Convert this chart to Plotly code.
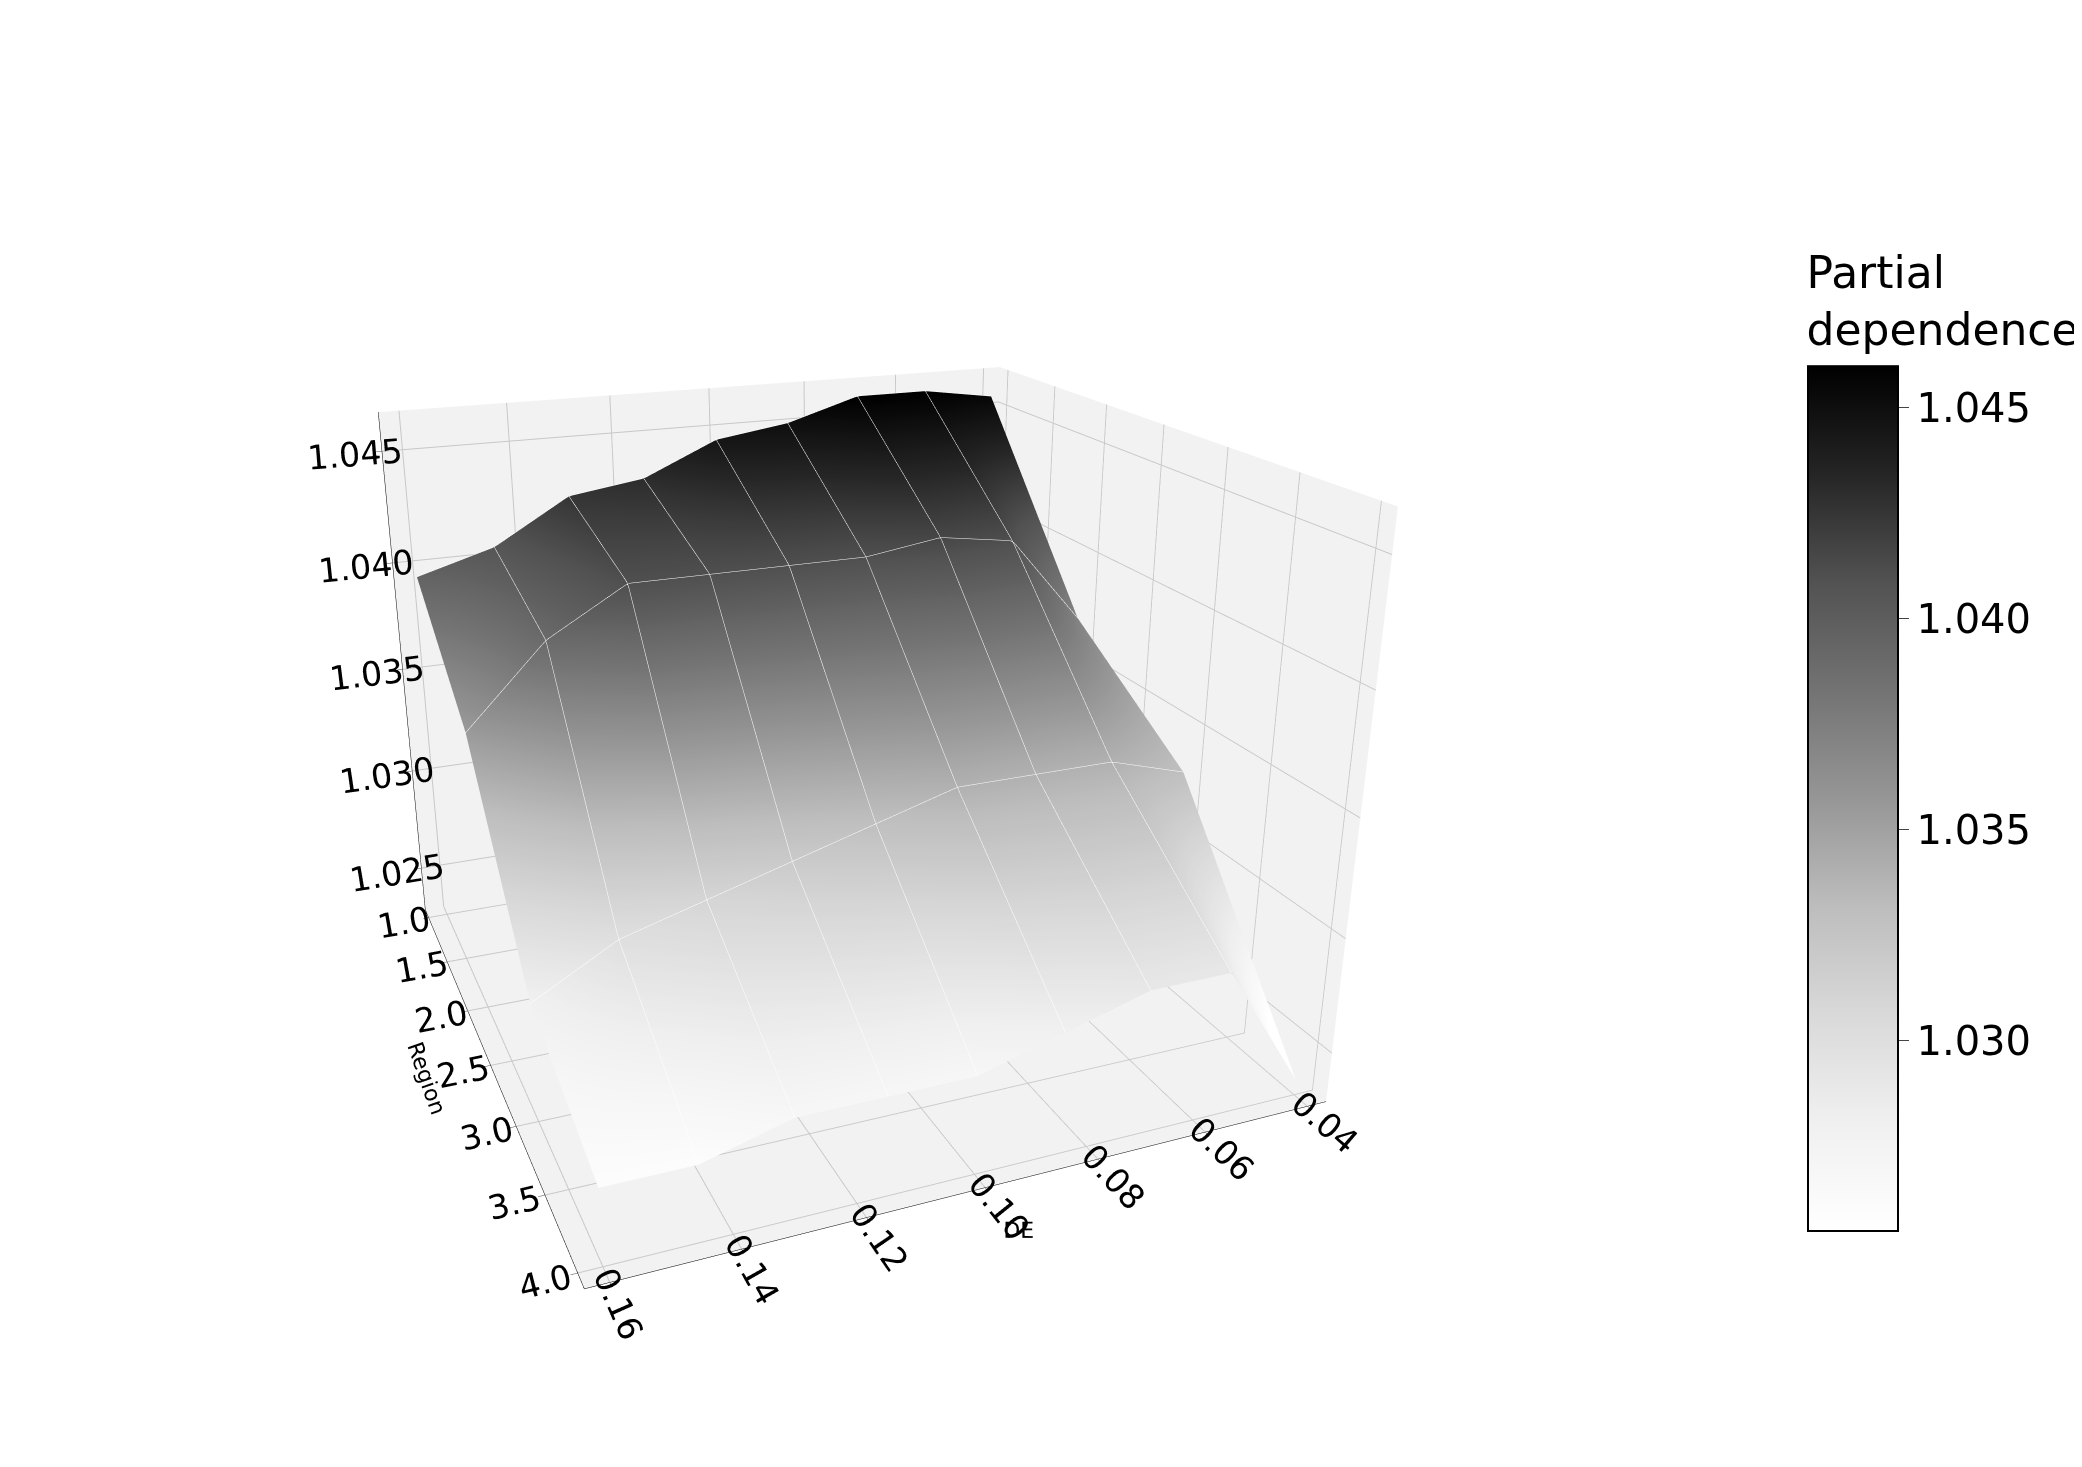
import plotly.graph_objects as go

de = [0.04, 0.055, 0.07, 0.085, 0.10, 0.115, 0.13, 0.145, 0.16]
region = [1, 2, 3, 4]
# rows: region, cols: DE (0.04 -> 0.16)
pd_vals = [
    [1.0455, 1.0460, 1.0460, 1.0450, 1.0445, 1.0430, 1.0425, 1.0405, 1.0395],
    [1.0370, 1.0410, 1.0415, 1.0410, 1.0410, 1.0410, 1.0410, 1.0390, 1.0355],
    [1.0330, 1.0340, 1.0340, 1.0340, 1.0330, 1.0320, 1.0310, 1.0300, 1.0280],
    [1.0235, 1.0290, 1.0290, 1.0280, 1.0270, 1.0270, 1.0270, 1.0260, 1.0260],
]

fig = go.Figure(go.Surface(
    x=de, y=region, z=pd_vals,
    colorscale="Greys", cmin=1.0255, cmax=1.046,
    lighting=dict(ambient=1, diffuse=0, specular=0, fresnel=0),
    contours=dict(
        x=dict(show=True, start=0.04, end=0.16, size=0.015, color="white", width=6),
        y=dict(show=True, start=1, end=4, size=1, color="white", width=6),
    ),
    colorbar=dict(
        title=dict(text="Partial<br>dependence", side="top", font=dict(size=44, family="DejaVu Sans")),
        tickvals=[1.030, 1.035, 1.040, 1.045], ticktext=["1.030", "1.035", "1.040", "1.045"],
        tickfont=dict(size=40, family="DejaVu Sans"), ticks="outside", ticklen=10,
        len=0.68, thickness=90, x=0.87, y=0.5, outlinewidth=2, outlinecolor="black",
    ),
))
ax = dict(showbackground=True, backgroundcolor="rgb(242,242,242)", gridcolor="rgb(200,200,200)",
          tickfont=dict(size=20, family="DejaVu Sans"), ticks="outside", linecolor="black", showline=True)
fig.update_layout(
    width=2082, height=1467, paper_bgcolor="white",
    font=dict(family="DejaVu Sans", color="black"),
    margin=dict(l=0, r=0, t=0, b=0),
    scene=dict(
        domain=dict(x=[0, 0.8], y=[0, 1]),
        xaxis=dict(ax, title=dict(text="DE", font=dict(size=22)), tickvals=[0.04, 0.06, 0.08, 0.10, 0.12, 0.14, 0.16], tickformat=".2f"),
        yaxis=dict(ax, title=dict(text="Region", font=dict(size=22)), tickvals=[1, 1.5, 2, 2.5, 3, 3.5, 4], tickformat=".1f"),
        zaxis=dict(ax, title=dict(text=""), tickvals=[1.025, 1.030, 1.035, 1.040, 1.045], tickformat=".3f"),
        camera=dict(eye=dict(x=0.85, y=2.1, z=0.9)),
        aspectratio=dict(x=1, y=1, z=0.8),
    ),
)
fig.write_html("out.html")
